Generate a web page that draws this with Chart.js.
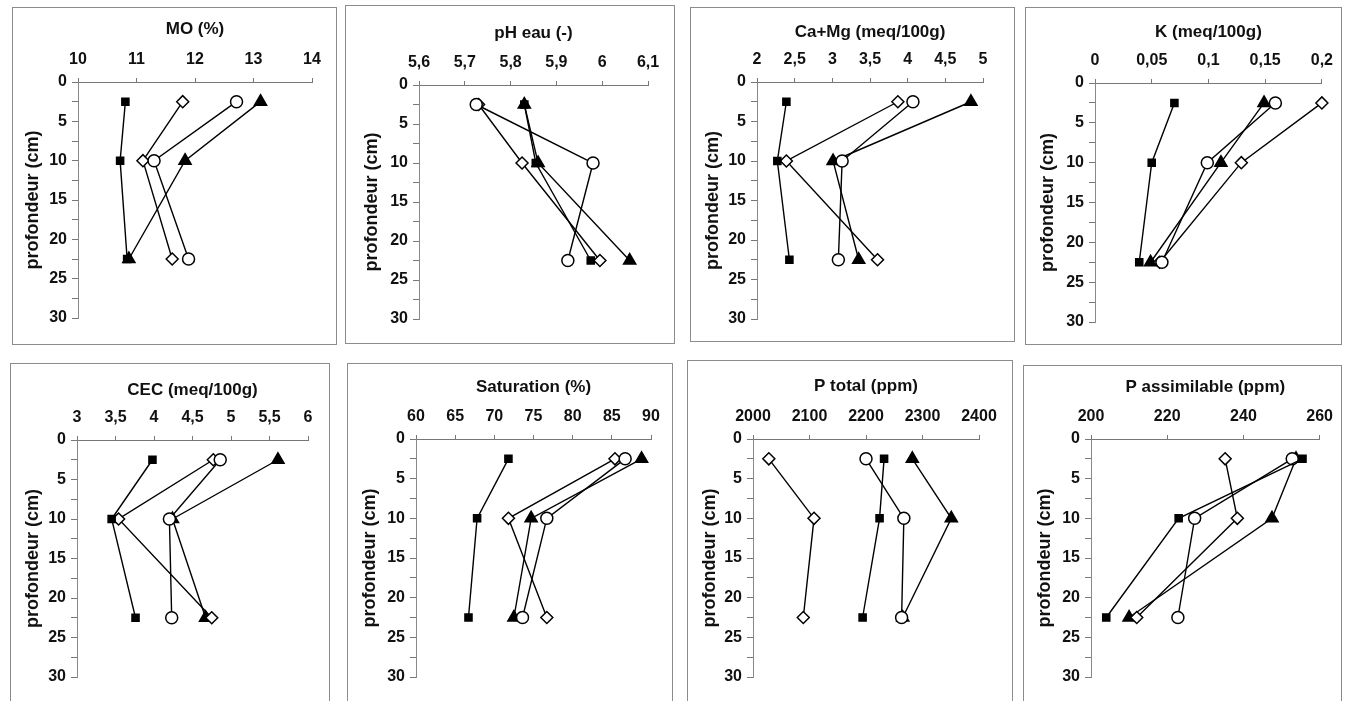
<!DOCTYPE html>
<html>
<head>
<meta charset="utf-8">
<script src="https://cdn.jsdelivr.net/npm/chart.js@4"></script>
<style>
  body { margin: 0; background: #fff; width: 1351px; height: 701px; overflow: hidden; position: relative; }
  .cadre { position: absolute; border: 1px solid #8c8c8c; box-sizing: border-box; }
  canvas { position: absolute; }
</style>
</head>
<body>
<script>
// profondeurs de prélèvement (cm)
const profondeurs = [2.5, 10, 22.5];

const titres = ['MO (%)', 'pH eau (-)', 'Ca+Mg (meq/100g)', 'K (meq/100g)',
                'CEC (meq/100g)', 'Saturation (%)', 'P total (ppm)', 'P assimilable (ppm)'];
const xMin = [10, 5.6, 2, 0, 3, 60, 2000, 200];
const xMax = [14, 6.1, 5, 0.2, 6, 90, 2400, 260];
const xPas = [1, 0.1, 0.5, 0.05, 0.5, 5, 100, 20];

// une valeur par profondeur, un triplet par graphique (même ordre que titres)
const carre = [
  [10.81, 10.72, 10.84], [5.83, 5.855, 5.975], [2.39, 2.27, 2.43], [0.070, 0.050, 0.039],
  [3.98, 3.45, 3.76], [71.8, 67.8, 66.7], [2232, 2224, 2194], [255.5, 223, 204]
];
const cercle = [
  [12.71, 11.30, 11.89], [5.725, 5.98, 5.925], [4.07, 3.13, 3.08], [0.159, 0.099, 0.059],
  [4.86, 4.20, 4.23], [86.7, 76.7, 73.6], [2200, 2267, 2263], [252.8, 227.2, 222.8]
];
const losange = [
  [11.79, 11.11, 11.61], [5.73, 5.825, 5.995], [3.87, 2.39, 3.60], [0.200, 0.129, 0.057],
  [4.77, 3.54, 4.75], [85.4, 71.8, 76.7], [2028, 2108, 2089], [235.2, 238.4, 212]
];
const triangle = [
  [13.12, 11.83, 10.87], [5.83, 5.86, 6.06], [4.84, 3.01, 3.35], [0.149, 0.111, 0.049],
  [5.61, 4.24, 4.67], [88.8, 74.7, 72.5], [2282, 2351, 2265], [253.8, 247.5, 210]
];

// mise en page : cadre [g, h, d, b], zone de tracé [g, h, d, b]
const cadres = [
  [12, 7, 337, 343], [345, 5, 675, 342], [690, 7, 1015, 340], [1025, 7, 1342, 343],
  [10, 363, 330, 701], [347, 363, 673, 701], [687, 360, 1013, 701], [1023, 365, 1342, 701]
];
const zones = [
  [78, 82, 312, 318], [419, 85, 648, 319], [757, 82, 983, 319], [1095, 83, 1327, 322],
  [77, 440, 308, 677], [416, 439, 651, 677], [753, 439, 979, 677], [1091, 439, 1328, 677]
];
const titreY = [29, 33, 32, 32, 390, 387, 386, 387];
const titreAxeX = [33, 372, 713, 1048, 33, 370, 710, 1045];

const POLICE = "'Liberation Sans', Arial, sans-serif";
const T_TITRE = 17, T_AXE = 18, T_GRAD = 16;

function virgule(v) {
  return String(Number(v.toFixed(3))).replace('.', ',');
}

function serie(vals, forme, plein, rayon) {
  return {
    data: vals.map((v, k) => ({ x: v, y: profondeurs[k] })),
    showLine: true,
    borderColor: '#000',
    borderWidth: 1.4,
    pointStyle: forme,
    pointRadius: rayon,
    pointBorderWidth: 1.5,
    pointBackgroundColor: plein ? '#000' : '#fff',
    pointBorderColor: '#000',
    clip: false
  };
}

titres.forEach((titre, i) => {
  const [bl, bt, br, bb] = cadres[i];
  const [zl, zt, zr, zb] = zones[i];

  const cadre = document.createElement('div');
  cadre.className = 'cadre';
  Object.assign(cadre.style, { left: bl + 'px', top: bt + 'px', width: (br - bl) + 'px', height: (bb - bt + 2) + 'px' });
  document.body.appendChild(cadre);

  const cv = document.createElement('canvas');
  cv.width = br - bl;
  cv.height = bb - bt;
  cv.style.left = bl + 'px';
  cv.style.top = bt + 'px';
  document.body.appendChild(cv);

  const hautX = zt - (titreY[i] - T_TITRE * 0.6);
  const largY = zl - (titreAxeX[i] - T_AXE * 0.6);

  new Chart(cv, {
    type: 'scatter',
    data: {
      datasets: [
        serie(carre[i], 'rect', true, 5),
        serie(cercle[i], 'circle', false, 6),
        serie(losange[i], 'rectRot', false, 6),
        serie(triangle[i], 'triangle', true, 7)
      ]
    },
    options: {
      responsive: false,
      animation: false,
      devicePixelRatio: 1,
      layout: {
        padding: { left: zl - largY - bl, top: zt - hautX - bt, right: br - zr, bottom: bb - zb }
      },
      plugins: { legend: { display: false }, tooltip: { enabled: false } },
      scales: {
        x: {
          type: 'linear',
          position: 'top',
          min: xMin[i],
          max: xMax[i],
          ticks: {
            stepSize: xPas[i], autoSkip: false, maxRotation: 0, padding: 9,
            color: '#111', font: { family: POLICE, size: T_GRAD, weight: 'bold' },
            callback: v => virgule(v)
          },
          grid: { drawOnChartArea: false, tickLength: 4, color: '#777' },
          border: { color: '#777' },
          title: {
            display: true, text: titre, padding: 0, color: '#111',
            font: { family: POLICE, size: T_TITRE, weight: 'bold' }
          },
          afterFit: s => { s.height = hautX; }
        },
        y: {
          type: 'linear',
          reverse: true,
          min: 0,
          max: 30,
          ticks: {
            stepSize: 2.5, autoSkip: false, padding: 5,
            color: '#111', font: { family: POLICE, size: T_GRAD, weight: 'bold' },
            callback: v => (v % 5 === 0 ? v : '')
          },
          grid: { drawOnChartArea: false, tickLength: 6, color: '#777' },
          border: { color: '#888' },
          title: {
            display: true, text: 'profondeur (cm)', padding: 0, color: '#111',
            font: { family: POLICE, size: T_AXE, weight: 'bold' }
          },
          afterFit: s => { s.width = largY; }
        }
      }
    }
  });
});
</script>
</body>
</html>
